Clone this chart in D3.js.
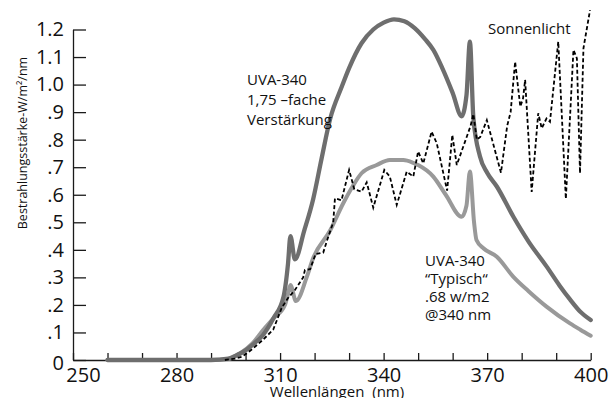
<!DOCTYPE html>
<html>
<head>
<meta charset="utf-8">
<script src="https://cdn.jsdelivr.net/npm/d3@7"></script>
<style>
  body { margin: 0; background: #fff; }
  svg { display: block; font-family: "Open Sans", sans-serif; }
</style>
</head>
<body>
<svg id="chart" width="616" height="398"></svg>
<script>
// wavelength (nm) / irradiance (W/m²/nm)
const uvaBoost = [
  [260, 0], [290, 0], [295, 0.005], [297, 0.015], [300, 0.035], [302, 0.055],
  [305, 0.09], [308, 0.15], [311, 0.23], [312.3, 0.35], [313, 0.45], [314.3, 0.365],
  [317, 0.47], [319.6, 0.585], [322, 0.73], [324.5, 0.875], [327.8, 0.99], [330, 1.06],
  [333.6, 1.15], [337, 1.2], [340, 1.225], [343, 1.237], [346, 1.23], [349, 1.205],
  [352, 1.165], [354.4, 1.126], [357, 1.06], [360, 0.97], [362.6, 0.885], [364, 0.96],
  [365, 1.156], [366, 0.88], [367.9, 0.74], [370, 0.68], [372.8, 0.63], [377.6, 0.52],
  [382, 0.43], [387.2, 0.34], [391, 0.27], [394, 0.22], [397, 0.175], [400, 0.145]
];

const uvaTypical = [
  [260, 0], [290, 0], [295, 0.004], [298.4, 0.024], [302, 0.06], [305.1, 0.109],
  [308, 0.15], [311.4, 0.2], [312.3, 0.24], [313, 0.272], [314.6, 0.214], [317.7, 0.3],
  [319.6, 0.37], [324.5, 0.47], [328.3, 0.569], [331, 0.63], [333.6, 0.678], [338, 0.708],
  [341.8, 0.726], [345.7, 0.726], [348.6, 0.716], [350, 0.708], [354.4, 0.666],
  [358, 0.6], [362.6, 0.52], [364, 0.56], [365, 0.684], [366.2, 0.5], [366.9, 0.436],
  [369, 0.405], [372.8, 0.375], [377.6, 0.302], [382, 0.25], [387.2, 0.194],
  [394, 0.133], [397, 0.11], [400, 0.088]
];

const sunlight = [
  [294, 0], [297, 0.005], [299, 0.012], [302, 0.04], [305, 0.073], [308, 0.11],
  [310.5, 0.19], [312.3, 0.225], [314.3, 0.254], [316.7, 0.3], [317.2, 0.327],
  [318.7, 0.33], [320.3, 0.385], [322.5, 0.39], [323.5, 0.43], [325.4, 0.5],
  [325.9, 0.587], [327.8, 0.58], [330, 0.69], [331.5, 0.62], [333.6, 0.611],
  [335.1, 0.645], [337, 0.553], [340.2, 0.69], [341.8, 0.666], [343.8, 0.563],
  [346.7, 0.684], [348.6, 0.666], [350, 0.757], [351.5, 0.714], [353.9, 0.829],
  [355.4, 0.787], [358.4, 0.615], [359.9, 0.817], [361.2, 0.708], [362.8, 0.765],
  [365.2, 0.85], [366, 0.893], [367, 0.8], [368, 0.81], [369.9, 0.871], [374, 0.68],
  [375.8, 0.85], [376.8, 0.9], [378.1, 1.083], [379.6, 0.92], [380.4, 0.95],
  [381, 1.017], [382.9, 0.61], [384.8, 0.896], [385.8, 0.841], [387.2, 0.877],
  [388.2, 0.865], [390.6, 1.156], [392.8, 0.585], [395, 1.126], [396, 1.095],
  [396.9, 0.678], [397.9, 1.132], [399.8, 1.27]
];

const yTicks = d3.range(0, 13).map((i) => i / 10);
const xTicks = d3.range(250, 401, 10);
const xLabelled = [250, 280, 310, 340, 370, 400];

const labelBoost = ["UVA-340", "1,75 –fache", "Verstärkung"];
const labelTypical = ["UVA-340", "“Typisch“", ".68 w/m2", "@340 nm"];

const svg = d3.select("#chart");

const x = d3.scaleLinear().domain([250, 400]).range([73, 590.7]);
const y = d3.scaleLinear().domain([0, 1.2]).range([360, 29.5]);

// axes
const yAxis = d3
  .axisLeft(y)
  .tickValues(yTicks)
  .tickSizeInner(-13)
  .tickSizeOuter(0)
  .tickPadding(9)
  .tickFormat((d) => (d === 0 ? "0" : d >= 1 ? d.toFixed(1) : d.toFixed(1).slice(1)));

const gy = svg.append("g").attr("transform", `translate(${x(250)},0)`).call(yAxis);

const xAxis = d3
  .axisBottom(x)
  .tickValues(xTicks)
  .tickSizeInner(-7)
  .tickSizeOuter(0)
  .tickPadding(8)
  .tickFormat((d) => (xLabelled.includes(d) ? d : ""));

const gx = svg.append("g").attr("transform", `translate(0,${y(0)})`).call(xAxis);

[gx, gy].forEach((g) => {
  g.selectAll("path, line").attr("stroke", "#1a1a1a").attr("stroke-width", 1.3);
  g.selectAll("text")
    .attr("fill", "#111")
    .style("font-size", "20px")
    .style("font-family", '"Open Sans", sans-serif');
});
gy.select(".tick text").attr("dy", "0.45em");
gx.selectAll(".tick text").filter((d) => d === 250).attr("dx", 10);

// axis titles
svg
  .append("text")
  .attr("x", 337)
  .attr("y", 397)
  .attr("text-anchor", "middle")
  .style("font-size", "15px")
  .style("word-spacing", "4px")
  .attr("fill", "#111")
  .text("Wellenlängen (nm)");

svg
  .append("text")
  .attr("transform", "translate(27,143) rotate(-90)")
  .attr("text-anchor", "middle")
  .style("font-size", "12.5px")
  .attr("fill", "#111")
  .text("Bestrahlungsstärke-W/m²/nm");

// curves
const smooth = d3
  .line()
  .x((d) => x(d[0]))
  .y((d) => y(d[1]))
  .curve(d3.curveMonotoneX);

const straight = d3
  .line()
  .x((d) => x(d[0]))
  .y((d) => y(d[1]));

svg
  .append("path")
  .datum(uvaTypical)
  .attr("fill", "none")
  .attr("stroke", "#999999")
  .attr("stroke-width", 4)
  .attr("stroke-linejoin", "round")
  .attr("stroke-linecap", "round")
  .attr("d", smooth);

svg
  .append("path")
  .datum(uvaBoost)
  .attr("fill", "none")
  .attr("stroke", "#6e6e6e")
  .attr("stroke-width", 4.3)
  .attr("stroke-linejoin", "round")
  .attr("stroke-linecap", "round")
  .attr("d", smooth);

svg
  .append("path")
  .datum(sunlight)
  .attr("fill", "none")
  .attr("stroke", "#000")
  .attr("stroke-width", 1.8)
  .attr("stroke-dasharray", "4,2.5")
  .attr("d", straight);

// annotations
function block(lines, left, top, step) {
  const t = svg
    .append("text")
    .attr("fill", "#111")
    .style("font-size", "15px");
  lines.forEach((s, i) => {
    t.append("tspan").attr("x", left).attr("y", top + i * step).text(s);
  });
}

block(labelBoost, 247, 85, 20);
block(labelTypical, 425, 265.5, 18.2);
block(["Sonnenlicht"], 488, 34, 0);
</script>
</body>
</html>
